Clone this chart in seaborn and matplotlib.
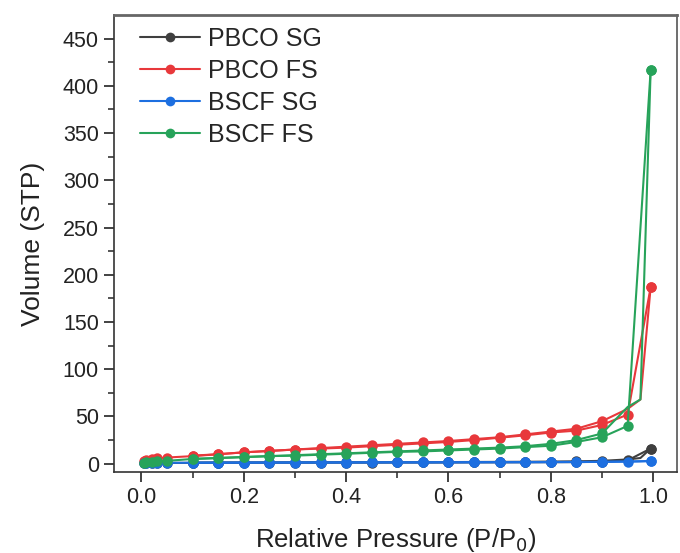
import numpy as np
import pandas as pd
import matplotlib
matplotlib.use("Agg")
import matplotlib.pyplot as plt
from matplotlib.ticker import MultipleLocator
import seaborn as sns

# ---------------- data ----------------
samples = ["PBCO SG", "PBCO FS", "BSCF SG", "BSCF FS"]
colors = ["#3f3f3f", "#e8383b", "#1d6fe0", "#27a35a"]

x_ads = [0.005, 0.01, 0.02, 0.03, 0.05, 0.1, 0.15, 0.2, 0.25, 0.3, 0.35, 0.4,
         0.45, 0.5, 0.55, 0.6, 0.65, 0.7, 0.75, 0.8, 0.85, 0.9, 0.95, 0.995]
x_des = [0.995, 0.975, 0.95, 0.9, 0.85, 0.8, 0.75, 0.7, 0.65, 0.6, 0.55, 0.5,
         0.45, 0.4, 0.35, 0.3, 0.25, 0.2, 0.15, 0.1]

pbco_sg_ads = [0.4, 0.5, 0.6, 0.7, 0.8, 0.9, 1.0, 1.0, 1.1, 1.1, 1.2, 1.2,
               1.2, 1.3, 1.3, 1.3, 1.4, 1.4, 1.5, 1.6, 1.7, 2.0, 3.5, 16]
pbco_sg_des = [16, 6, 4.5, 3.0, 2.5, 2.2, 2.0, 1.9, 1.8, 1.7, 1.6, 1.6,
               1.5, 1.5, 1.4, 1.4, 1.3, 1.3, 1.2, 1.1]

pbco_fs_ads = [3, 4, 5, 5.5, 6.5, 8, 10, 12, 13.5, 15, 16, 17,
               18.5, 20, 21.5, 23, 25, 27.5, 30, 33, 35, 41, 52, 187]
pbco_fs_des = [187, 68, 58, 45, 37, 34, 31, 28, 26, 24, 22.5, 21,
               19.5, 18, 16.5, 15, 13.5, 12, 10, 8.5]

bscf_sg_ads = [0.5, 0.6, 0.7, 0.8, 0.9, 1.0, 1.0, 1.1, 1.1, 1.2, 1.2, 1.2,
               1.3, 1.3, 1.3, 1.4, 1.4, 1.5, 1.5, 1.6, 1.7, 1.9, 2.2, 2.8]
bscf_sg_des = [2.8, 2.5, 2.3, 2.0, 1.9, 1.8, 1.7, 1.7, 1.6, 1.6, 1.5, 1.5,
               1.5, 1.4, 1.4, 1.3, 1.3, 1.2, 1.2, 1.1]

bscf_fs_ads = [1, 1.5, 2, 2.5, 3, 5, 6, 7, 8, 8.5, 9.5, 10.5,
               11.5, 12.5, 13, 14, 15, 16, 17.5, 19, 23, 28, 40, 417]
bscf_fs_des = [417, 68, 60, 32, 25, 21, 18.5, 17, 16, 15, 14, 13,
               12, 11, 10, 9, 8, 7, 6, 5]

ads = [pbco_sg_ads, pbco_fs_ads, bscf_sg_ads, bscf_fs_ads]
des = [pbco_sg_des, pbco_fs_des, bscf_sg_des, bscf_fs_des]

rows = []
for s, a, d in zip(samples, ads, des):
    for xv, yv in zip(x_ads, a):
        rows.append((s, "ads", xv, yv))
    for xv, yv in zip(x_des, d):
        rows.append((s, "des", xv, yv))
df = pd.DataFrame(rows, columns=["sample", "branch", "P", "V"])

# ---------------- plot ----------------
sns.set_style("white")
plt.rcParams["font.family"] = ["Liberation Sans", "DejaVu Sans"]

fig = plt.figure(figsize=(6.8, 5.53), dpi=100)
ax = fig.add_axes([0.168, 0.147, 0.828, 0.825])

sns.lineplot(data=df, x="P", y="V", hue="sample", hue_order=samples,
             palette=colors, units="branch", estimator=None, sort=False,
             marker="o", markersize=7.5, markeredgewidth=0, linewidth=1.5,
             ax=ax)

# desorption branches: no markers on the steep return segment
for ln in ax.lines:
    if len(ln.get_xdata()) == len(x_des):
        ln.set_markevery([0] + list(range(3, len(x_des))))

ax.set_xlim(-0.053, 1.047)
ax.set_ylim(-8.5, 474.5)
ax.xaxis.set_minor_locator(MultipleLocator(0.1))
ax.yaxis.set_minor_locator(MultipleLocator(25))
ax.set_xticks([0, 0.2, 0.4, 0.6, 0.8, 1.0])
ax.set_xticklabels(["0.0", "0.2", "0.4", "0.6", "0.8", "1.0"])
ax.set_yticks(list(range(0, 451, 50)))

ax.tick_params(axis="both", which="major", direction="out", length=7,
               width=1.2, labelsize=15.5, colors="#222222", pad=4,
               bottom=True, left=True)
ax.tick_params(axis="both", which="minor", direction="out", length=4,
               width=1.1, bottom=True, left=True)
for side in ["left", "bottom", "right"]:
    ax.spines[side].set_color("#333333")
    ax.spines[side].set_linewidth(1.2)
ax.spines["top"].set_color("#666666")
ax.spines["top"].set_linewidth(2.0)
ax.spines["right"].set_color("#555555")

ax.set_xlabel("Relative Pressure (P/P$_0$)", fontsize=18.5, color="#222222",
              labelpad=13)
ax.set_ylabel("Volume (STP)", fontsize=19, color="#222222", labelpad=13)

handles, labels = ax.get_legend_handles_labels()
for h in handles:
    h.set_markersize(7)
ax.legend(handles, labels, loc="upper left", bbox_to_anchor=(0.045, 0.975),
          frameon=False, fontsize=18, handlelength=2.4, handletextpad=0.35,
          labelspacing=0.32, borderpad=0, borderaxespad=0)

fig.savefig("out.png", dpi=100)
